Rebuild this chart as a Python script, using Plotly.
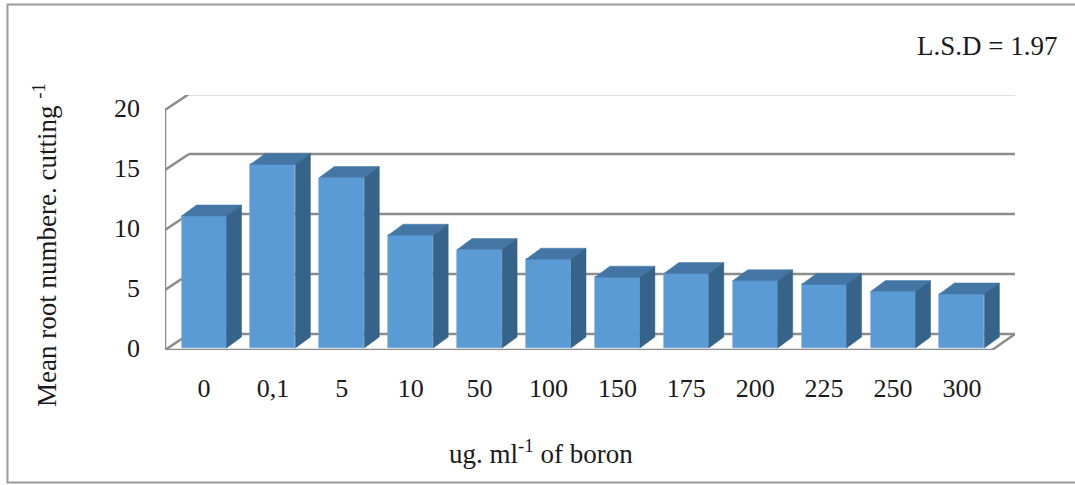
import plotly.graph_objects as go

# ---- data ----
categories = ["0", "0,1", "5", "10", "50", "100", "150", "175", "200", "225", "250", "300"]
root_number = [11.0, 15.3, 14.2, 9.4, 8.2, 7.4, 5.9, 6.2, 5.6, 5.3, 4.7, 4.5]
y_ticks = [0, 5, 10, 15, 20]
y_title = "Mean root numbere. cutting <sup>-1</sup>"
x_title = "ug. ml<sup>-1</sup> of boron"
lsd_text = "L.S.D = 1.97"

# ---- geometry (pixel-based layout) ----
W, H = 1075, 485
ml, mr, mt, mb = 165, 60, 95, 135
px_per_x = 68.9
px_per_y = 12.0
x_lo = -(204 - ml) / px_per_x
x_hi = x_lo + (W - ml - mr) / px_per_x
y_lo = -(H - mb - 348) / px_per_y
y_hi = y_lo + (H - mt - mb) / px_per_y

bar_w = 45 / px_per_x
bdx, bdy = 15 / px_per_x, 11 / px_per_y      # bar depth
wdx, wdy = 24 / px_per_x, 16 / px_per_y      # wall depth
front0 = y_lo                                 # front floor level
xs = list(range(len(categories)))
floor_front_right = (992 - 204) / px_per_x

GRID = "#8C8C8C"
FRONT = "#5B9BD5"
TOP = "#4376A5"
SIDE = "#366389"
FONT = "Liberation Serif"
TXT = "#1a1a1a"

fig = go.Figure()
fig.add_trace(go.Bar(x=xs, y=root_number, width=bar_w,
                     marker=dict(color=FRONT, line=dict(width=0.6, color="#6FA6D8")),
                     hoverinfo="skip", showlegend=False))

# top faces and side faces
tx, ty, sx, sy = [], [], [], []
for x, v in zip(xs, root_number):
    l, r = x - bar_w / 2, x + bar_w / 2
    tx += [l, l + bdx, r + bdx, r, l, None]
    ty += [v, v + bdy, v + bdy, v, v, None]
    sx += [r, r, r + bdx, r + bdx, r, None]
    sy += [0, v, v + bdy, bdy, 0, None]
fig.add_trace(go.Scatter(x=tx, y=ty, fill="toself", fillcolor=TOP, mode="lines",
                         line=dict(width=0.5, color=TOP), hoverinfo="skip", showlegend=False))
fig.add_trace(go.Scatter(x=sx, y=sy, fill="toself", fillcolor=SIDE, mode="lines",
                         line=dict(width=0.5, color=SIDE), hoverinfo="skip", showlegend=False))

shapes = []
lw = 2.5
for t in y_ticks:
    yf = front0 + t
    yb = front0 + t + wdy
    shapes.append(dict(type="line", xref="x", yref="y", x0=x_lo + wdx, x1=x_hi, y0=yb, y1=yb,
                       line=dict(color=GRID, width=lw), layer="below"))
    shapes.append(dict(type="line", xref="x", yref="y", x0=x_lo, x1=x_lo + wdx, y0=yf, y1=yb,
                       line=dict(color=GRID, width=lw), layer="below"))
shapes.append(dict(type="line", xref="x", yref="y", x0=x_lo, x1=x_lo, y0=front0, y1=front0 + max(y_ticks),
                   line=dict(color=GRID, width=lw), layer="below"))
shapes.append(dict(type="line", xref="x", yref="y", x0=x_lo, x1=floor_front_right, y0=front0, y1=front0,
                   line=dict(color=GRID, width=lw), layer="below"))
shapes.append(dict(type="line", xref="x", yref="y", x0=floor_front_right, x1=x_hi, y0=front0, y1=front0 + wdy,
                   line=dict(color=GRID, width=lw), layer="below"))


def px2paper_x(p):
    return (p - ml) / (W - ml - mr)


def px2paper_y(p):
    return (H - mb - p) / (H - mt - mb)


shapes.append(dict(type="rect", xref="paper", yref="paper",
                   x0=px2paper_x(7.5), x1=px2paper_x(1085), y0=px2paper_y(482.5), y1=px2paper_y(4.5),
                   line=dict(color="#9A9A9A", width=2), fillcolor="rgba(0,0,0,0)", layer="below"))

annotations = [
    dict(text=lsd_text, xref="paper", yref="paper", x=px2paper_x(1059), y=px2paper_y(46),
         xanchor="right", yanchor="middle", showarrow=False, font=dict(family=FONT, size=27, color=TXT)),
    dict(text=x_title, xref="paper", yref="paper", x=px2paper_x(541), y=px2paper_y(452),
         xanchor="center", yanchor="middle", showarrow=False, font=dict(family=FONT, size=27, color=TXT)),
    dict(text=y_title, xref="paper", yref="paper", x=px2paper_x(45), y=px2paper_y(245),
         xanchor="center", yanchor="middle", textangle=-90, showarrow=False,
         font=dict(family=FONT, size=27, color=TXT)),
]

fig.update_layout(
    width=W, height=H,
    margin=dict(l=ml, r=mr, t=mt, b=mb),
    paper_bgcolor="white", plot_bgcolor="white",
    shapes=shapes, annotations=annotations,
    xaxis=dict(range=[x_lo, x_hi], tickmode="array", tickvals=xs, ticktext=categories,
               showgrid=False, zeroline=False, showline=False, ticks="",
               ticklabelstandoff=20, tickfont=dict(family=FONT, size=26, color=TXT)),
    yaxis=dict(range=[y_lo, y_hi], tickmode="array", tickvals=y_ticks,
               showgrid=False, zeroline=False, showline=False, ticks="",
               ticklabelstandoff=24, tickfont=dict(family=FONT, size=26, color=TXT)),
    bargap=0,
)

fig.write_html("out.html", config={"displayModeBar": False},
               post_script="document.body.style.margin='0';document.body.style.padding='0';")
